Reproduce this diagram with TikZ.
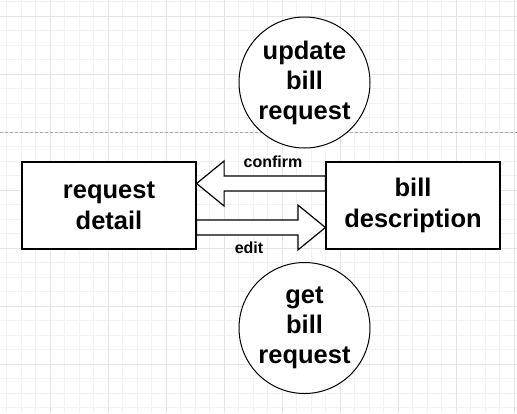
\documentclass[tikz,border=0pt]{standalone}
\usepackage{fontspec}
\setmainfont{Liberation Sans}
\usetikzlibrary{calc}
\definecolor{gridminor}{HTML}{F2F2F2}
\definecolor{gridmajor}{HTML}{E4E4E4}
\definecolor{dashgrey}{HTML}{AAAAAA}
\begin{document}
\begin{tikzpicture}[x=1pt,y=-1pt,
  box/.style={draw=black,line width=1.2pt,fill=white,minimum width=174pt,minimum height=87pt,inner sep=0pt,align=center,
    font=\fontsize{25.5}{31}\selectfont\bfseries},
  proc/.style={circle,draw=black,line width=1pt,fill=white,minimum size=131pt,inner sep=0pt,align=center,
    font=\fontsize{25.5}{30}\selectfont\bfseries},
  bigarrow/.style={draw=black,line width=1.2pt,fill=white,line join=miter},
  lbl/.style={font=\fontsize{16}{18}\selectfont\bfseries,inner sep=0pt}]
\useasboundingbox (0,0) rectangle (517,413);
\fill[white] (0,0) rectangle (517,413);
% grid
\foreach \i in {0,...,35} \draw[gridminor,line width=0.6pt] ({6.7+14.5*\i},0) -- ({6.7+14.5*\i},413);
\foreach \j in {0,...,28} \draw[gridminor,line width=0.6pt] (0,{1.5+14.5*\j}) -- (517,{1.5+14.5*\j});
\foreach \i in {0,...,8} \draw[gridmajor,line width=0.7pt] ({50.2+58*\i},0) -- ({50.2+58*\i},413);
\foreach \j in {0,...,6} \draw[gridmajor,line width=0.7pt] (0,{16+58*\j}) -- (517,{16+58*\j});
% dashed separator
\draw[dashgrey,line width=0.8pt,dash pattern=on 3pt off 2pt] (0,132.3) -- (517,132.3);
% nodes
\node[proc] (upd) at (304.5,82.5) {update\\bill\\request};
\node[proc] (get) at (304.5,328) {get\\bill\\request};
\node[box] (rd) at (109,205.5) {request\\detail};
\node[box] (bd) at (413,205.5) {bill\\description};
% anchor points of the block arrows
\path (bd.west) ++(0,-22) coordinate (cf0);
\path (rd.east) ++(0,-22) coordinate (cf1);
\path (rd.east) ++(0,22) coordinate (ed0);
\path (bd.west) ++(0,22) coordinate (ed1);
% confirm arrow (bill description -> request detail)
\draw[bigarrow] ($(cf0)+(0,-7.5)$) -- ($(cf1)+(27.5,-7.5)$) -- ($(cf1)+(27.5,-22.5)$) -- (cf1)
  -- ($(cf1)+(27.5,22.5)$) -- ($(cf1)+(27.5,7.5)$) -- ($(cf0)+(0,7.5)$) -- cycle;
% edit arrow (request detail -> bill description)
\draw[bigarrow] ($(ed0)+(0,-7.5)$) -- ($(ed1)+(-27.5,-7.5)$) -- ($(ed1)+(-27.5,-22.5)$) -- (ed1)
  -- ($(ed1)+(-27.5,22.5)$) -- ($(ed1)+(-27.5,7.5)$) -- ($(ed0)+(0,7.5)$) -- cycle;
% labels
\node[lbl] (lconf) at (273,161.5) {confirm};
\node[lbl] (ledit) at (249,248) {edit};
\end{tikzpicture}
\end{document}
